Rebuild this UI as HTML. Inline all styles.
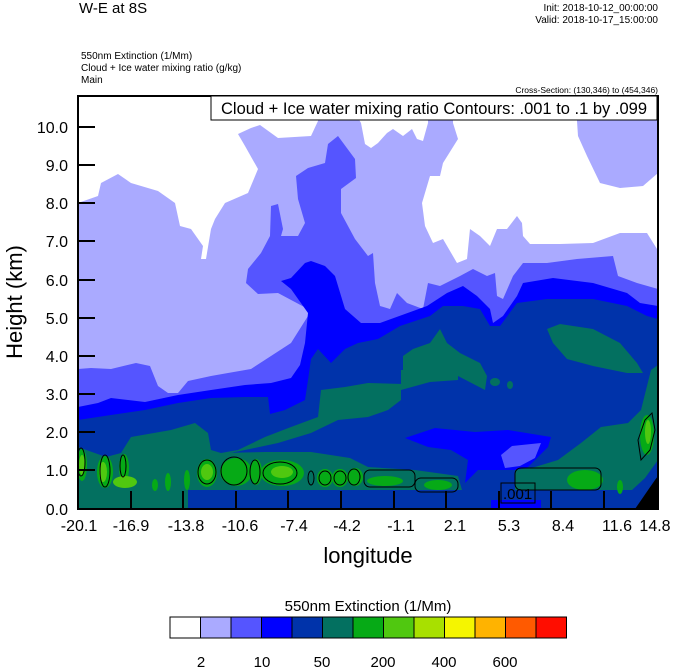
<!DOCTYPE html>
<html><head><meta charset="utf-8"><style>
html,body{margin:0;padding:0;background:#fff;}
svg{display:block;font-family:"Liberation Sans",sans-serif;}
</style></head><body>
<svg width="674" height="667" viewBox="0 0 674 667" xmlns="http://www.w3.org/2000/svg">
<defs><clipPath id="pc"><rect x="78" y="96" width="580" height="413"/></clipPath></defs>
<g clip-path="url(#pc)">
<rect x="78" y="96" width="580" height="413" fill="#aaaaff"/>
<polygon fill="#ffffff" points="78,96 318,96 318,121 311,136 278,138 260,125 251,128 238,134 245,146 258,169 248,193 225,203 215,219 211,229 206,259 201,259 203,246 191,229 180,226 175,203 158,191 131,183 118,174 101,183 98,196 78,203"/>
<polygon fill="#ffffff" points="345,96 361,123 365,144 371,148 378,143 387,133 393,129 403,136 412,129 417,139 423,141 428,123 428,96"/>
<polygon fill="#ffffff" points="453,96 453,123 458,139 443,163 440,176 430,176 422,203 425,226 433,243 443,239 457,263 467,259 470,229 480,236 490,246 497,229 507,229 517,216 522,223 523,236 530,244 560,244 593,243 620,233 647,233 657,249 658,173 643,186 620,188 600,183 587,156 578,136 577,121 577,96"/>
<!-- medium blue -->
<polygon fill="#5555ff" points="78,369 91,368 111,369 136,363 150,366 158,386 168,393 178,393 188,381 211,376 228,373 251,369 271,356 291,343 308,316 308,309 278,293 258,294 246,283 248,269 261,253 270,236 271,206 278,204 283,229 281,236 298,236 305,223 298,199 296,176 308,168 325,163 328,144 338,136 355,159 356,178 341,189 341,213 355,239 368,256 373,253 375,283 380,306 390,309 397,293 407,303 423,309 428,283 440,286 460,276 473,269 487,276 495,273 497,296 503,299 513,276 523,263 547,263 577,259 613,256 618,276 637,283 658,289 658,509 78,509"/>
<!-- blue -->
<polygon fill="#0000ff" points="78,407 98,403 111,398 145,402 178,395 211,390 245,385 271,383 291,378 300,365 305,343 308,313 291,289 281,281 291,278 305,263 311,261 325,266 335,276 345,309 361,323 380,323 427,306 447,293 463,286 477,296 490,309 493,323 503,316 517,296 523,283 553,278 593,283 627,293 640,303 658,306 658,509 78,509"/>
<!-- dark blue -->
<polygon fill="#0033aa" points="78,420 111,415 145,410 178,403 211,398 245,397 268,397 270,414 285,410 305,400 308,380 311,359 318,349 331,363 345,349 358,343 378,339 400,326 430,316 443,306 463,306 480,309 490,326 500,326 517,303 547,299 593,299 627,306 647,316 658,319 658,509 78,509"/>
<!-- green upper band -->
<polygon fill="#037060" points="121,453 131,437 171,430 195,423 208,433 211,450 221,453 238,450 265,437 291,427 318,417 321,390 345,387 368,383 403,384 403,356 413,349 430,343 440,329 447,343 460,353 480,363 487,376 485,390 458,376 401,372 401,400 388,410 368,417 338,420 311,433 278,443 245,450 225,454"/>
<polygon fill="#037060" points="401,370 458,370 458,380 430,382 401,390"/>
<polygon fill="#037060" points="547,329 560,324 593,329 620,343 637,363 643,373 627,373 593,366 567,359 553,343"/>
<ellipse cx="495" cy="382" rx="5" ry="4" fill="#037060"/>
<ellipse cx="510" cy="385" rx="3" ry="4" fill="#037060"/>
<!-- green bottom band -->
<polygon fill="#037060" points="78,447 106,457 121,453 221,453 265,452 311,452 350,458 368,467 415,470 458,476 462,490 188,490 188,509 78,509"/>
<!-- right green -->
<polygon fill="#037060" points="658,365 651,370 641,410 628,423 601,427 581,443 558,460 535,467 515,470 515,490 632,490 645,478 658,460"/>
<!-- bright blue -->
<polygon fill="#0000ff" points="405,438 435,428 475,432 508,430 551,437 548,447 528,467 515,470 478,470 465,483 468,460 451,450 428,447"/>
<polygon fill="#5555ff" points="501,455 512,446 541,443 535,458 520,466 505,468"/>
<rect x="188" y="490" width="447" height="19" fill="#0033aa"/>
<rect x="491" y="500" width="50" height="9" fill="#0000ff"/>
<polygon fill="#000" points="635,509 655,480 658,476 658,509"/>
<!-- bright greens -->
<g fill="#06aa16">
<ellipse cx="82" cy="465" rx="5" ry="16"/>
<ellipse cx="105" cy="472" rx="8" ry="16"/>
<ellipse cx="124" cy="468" rx="5" ry="14"/>
<ellipse cx="155" cy="485" rx="3" ry="6"/>
<ellipse cx="168" cy="482" rx="3" ry="9"/>
<ellipse cx="187" cy="480" rx="3" ry="10"/>
<ellipse cx="207" cy="473" rx="10" ry="14"/>
<ellipse cx="236" cy="472" rx="16" ry="14"/>
<ellipse cx="256" cy="472" rx="6" ry="13"/>
<ellipse cx="282" cy="473" rx="22" ry="13"/>
<ellipse cx="325" cy="478" rx="8" ry="9"/>
<ellipse cx="340" cy="478" rx="8" ry="9"/>
<ellipse cx="355" cy="477" rx="8" ry="9"/>
<ellipse cx="385" cy="481" rx="18" ry="5"/>
<ellipse cx="438" cy="485" rx="14" ry="5"/>
<ellipse cx="585" cy="480" rx="18" ry="10"/>
<ellipse cx="620" cy="487" rx="3" ry="7"/>
<ellipse cx="647" cy="435" rx="7" ry="20"/>
</g>
<g fill="#50c810">
<ellipse cx="82" cy="465" rx="3" ry="10"/>
<ellipse cx="103" cy="472" rx="4" ry="10"/>
<ellipse cx="125" cy="482" rx="12" ry="6"/>
<ellipse cx="207" cy="472" rx="6" ry="8"/>
<ellipse cx="282" cy="472" rx="11" ry="6"/>
<ellipse cx="648" cy="432" rx="3" ry="12"/>
</g>
<g fill="none" stroke="#000" stroke-width="1">
<ellipse cx="81" cy="462" rx="4" ry="14"/>
<ellipse cx="105" cy="471" rx="5" ry="16"/>
<ellipse cx="123" cy="466" rx="3" ry="11"/>
<ellipse cx="207" cy="472" rx="9" ry="12"/>
<ellipse cx="234" cy="471" rx="13" ry="14"/>
<ellipse cx="255" cy="472" rx="5" ry="12"/>
<ellipse cx="280" cy="473" rx="17" ry="11"/>
<ellipse cx="311" cy="478" rx="3" ry="7"/>
<ellipse cx="325" cy="478" rx="6" ry="7"/>
<ellipse cx="340" cy="478" rx="6" ry="7"/>
<ellipse cx="354" cy="477" rx="6" ry="8"/>
<rect x="364" y="470" width="51" height="17" rx="6"/>
<rect x="415" y="478" width="43" height="14" rx="6"/>
<rect x="515" y="468" width="86" height="22" rx="6"/>
<rect x="501" y="483" width="34" height="20"/>
<path d="M641,460 L638,440 L645,420 L652,413 L655,430 L650,450 Z"/>
</g>
<text x="503" y="499" font-size="15">.001</text>
</g>
<rect x="78" y="96" width="580" height="413" fill="none" stroke="#000" stroke-width="2"/>
<rect x="211" y="96" width="446" height="24" fill="#fff" stroke="#000" stroke-width="1"/>
<text x="434" y="114" font-size="16.5" text-anchor="middle">Cloud + Ice water mixing ratio Contours: .001 to .1 by .099</text>
<g stroke="#000" stroke-width="2">
<line x1="78" y1="127" x2="95" y2="127"/><line x1="78" y1="165" x2="95" y2="165"/><line x1="78" y1="203" x2="95" y2="203"/><line x1="78" y1="241" x2="95" y2="241"/><line x1="78" y1="280" x2="95" y2="280"/><line x1="78" y1="318" x2="95" y2="318"/><line x1="78" y1="356" x2="95" y2="356"/><line x1="78" y1="394" x2="95" y2="394"/><line x1="78" y1="432" x2="95" y2="432"/><line x1="78" y1="470" x2="95" y2="470"/>
<line x1="131" y1="509" x2="131" y2="491"/><line x1="183" y1="509" x2="183" y2="491"/><line x1="236" y1="509" x2="236" y2="491"/><line x1="288" y1="509" x2="288" y2="491"/><line x1="341" y1="509" x2="341" y2="491"/><line x1="394" y1="509" x2="394" y2="491"/><line x1="446" y1="509" x2="446" y2="491"/><line x1="499" y1="509" x2="499" y2="491"/><line x1="551" y1="509" x2="551" y2="491"/><line x1="604" y1="509" x2="604" y2="491"/>
</g>
<g font-size="16" text-anchor="end">
<text x="68" y="133">10.0</text><text x="68" y="171">9.0</text><text x="68" y="209">8.0</text><text x="68" y="247">7.0</text><text x="68" y="286">6.0</text><text x="68" y="324">5.0</text><text x="68" y="362">4.0</text><text x="68" y="400">3.0</text><text x="68" y="438">2.0</text><text x="68" y="476">1.0</text><text x="68" y="515">0.0</text>
</g>
<g font-size="16" text-anchor="middle">
<text x="79" y="531">-20.1</text><text x="131" y="531">-16.9</text><text x="186" y="531">-13.8</text><text x="240" y="531">-10.6</text><text x="294" y="531">-7.4</text><text x="347" y="531">-4.2</text><text x="401" y="531">-1.1</text><text x="455" y="531">2.1</text><text x="509" y="531">5.3</text><text x="563" y="531">8.4</text><text x="617" y="531">11.6</text><text x="655" y="531">14.8</text>
</g>
<text x="368" y="563" font-size="22" text-anchor="middle">longitude</text>
<text transform="translate(22,302) rotate(-90)" font-size="22" text-anchor="middle">Height (km)</text>
<text x="79" y="13" font-size="15">W-E at 8S</text>
<text x="658" y="11" font-size="10" text-anchor="end">Init: 2018-10-12_00:00:00</text>
<text x="658" y="23" font-size="10" text-anchor="end">Valid: 2018-10-17_15:00:00</text>
<text x="81" y="59" font-size="10">550nm Extinction   (1/Mm)</text>
<text x="81" y="71" font-size="10">Cloud + Ice water mixing ratio   (g/kg)</text>
<text x="81" y="83" font-size="10">Main</text>
<text x="658" y="93" font-size="8.5" text-anchor="end">Cross-Section: (130,346) to (454,346)</text>
<text x="368" y="611" font-size="15" text-anchor="middle">550nm Extinction  (1/Mm)</text>
<g stroke="#000" stroke-width="1">
<rect x="170" y="617" width="30.5" height="21" fill="#ffffff"/>
<rect x="200.5" y="617" width="30.5" height="21" fill="#aaaaff"/>
<rect x="231" y="617" width="30.5" height="21" fill="#5555ff"/>
<rect x="261.5" y="617" width="30.5" height="21" fill="#0000ff"/>
<rect x="292" y="617" width="30.5" height="21" fill="#0033aa"/>
<rect x="322.5" y="617" width="30.5" height="21" fill="#037060"/>
<rect x="353" y="617" width="30.5" height="21" fill="#06aa16"/>
<rect x="383.5" y="617" width="30.5" height="21" fill="#50c810"/>
<rect x="414" y="617" width="30.5" height="21" fill="#a8e000"/>
<rect x="444.5" y="617" width="30.5" height="21" fill="#f5f500"/>
<rect x="475" y="617" width="30.5" height="21" fill="#ffb300"/>
<rect x="505.5" y="617" width="30.5" height="21" fill="#ff5a00"/>
<rect x="536" y="617" width="30.5" height="21" fill="#ff0d00"/>
</g>
<g font-size="15" text-anchor="middle">
<text x="201" y="667">2</text><text x="262" y="667">10</text><text x="322" y="667">50</text><text x="383" y="667">200</text><text x="444" y="667">400</text><text x="505" y="667">600</text>
</g>
</svg>
</body></html>
